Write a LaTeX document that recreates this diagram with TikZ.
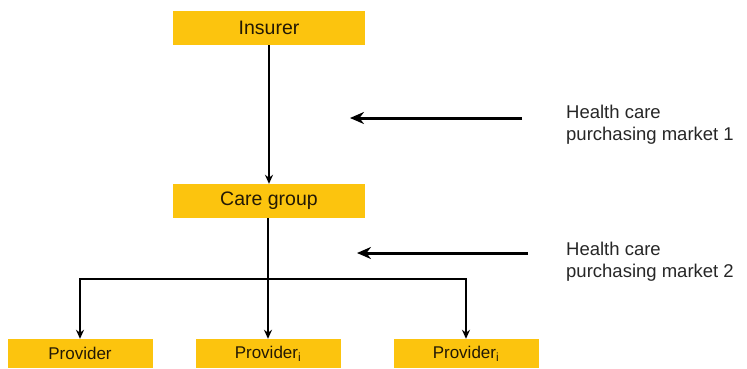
\documentclass[tikz,border=0pt]{standalone}
\usepackage{fontspec}
\setmainfont{Liberation Sans}
\usepackage{tikz}
\usetikzlibrary{arrows.meta,positioning}

\definecolor{boxgold}{RGB}{252,196,14}
\definecolor{boxtext}{RGB}{35,25,5}

\tikzset{
    goldbox/.style={fill=boxgold, text=boxtext, inner sep=0pt, minimum height=34, minimum width=192, font=\fontsize{19.5}{22}\selectfont},
    provbox/.style={goldbox, minimum height=29, minimum width=145, font=\fontsize{17}{20}\selectfont},
    tree/.style={line width=2pt, -{Stealth[length=9pt,width=8pt]}},
    market/.style={line width=3pt, -{Stealth[length=14pt,width=12pt]}},
    marketlabel/.style={anchor=north west, inner sep=0pt, align=left, font=\fontsize{18.5}{22}\selectfont, text=black!85}
}

\begin{document}
\begin{tikzpicture}[x=1pt,y=1pt,yscale=-1,xscale=1]
            \useasboundingbox (0,0) rectangle (747,368);
            % Boxes
            \node [goldbox] (insurer) at (269,28) {Insurer};
            \node [goldbox] (care) at (269,201) {Care group};
            \node [provbox] (provA) at (80,353.5) {Provider};
            \node [provbox] (provB) at (268,353.5) {Provider\textsubscript{i}};
            \node [provbox] (provC) at (466,353.5) {Provider\textsubscript{i}};
            % Connectors
            \draw [tree] (insurer.south) -- (care.north);
            \coordinate (split) at (268,279);
            \draw [line width=2pt] (care.south -| split) -- (split);
            \draw [tree] (split) -- (provB.north);
            \draw [tree] (split) -| (provA.north);
            \draw [tree] (split) -| (provC.north);
            % Market labels
            \node [marketlabel] (mktA) at (566,105) {Health care\\purchasing market 1};
            \node [marketlabel] (mktB) at (566,242) {Health care\\purchasing market 2};
            \coordinate (tipA) at (350,118);
            \coordinate (tailA) at (522,118);
            \coordinate (tipB) at (357,253);
            \coordinate (tailB) at (528,253);
            \draw [market] (tailA) -- (tipA);
            \draw [market] (tailB) -- (tipB);
\end{tikzpicture}
\end{document}
